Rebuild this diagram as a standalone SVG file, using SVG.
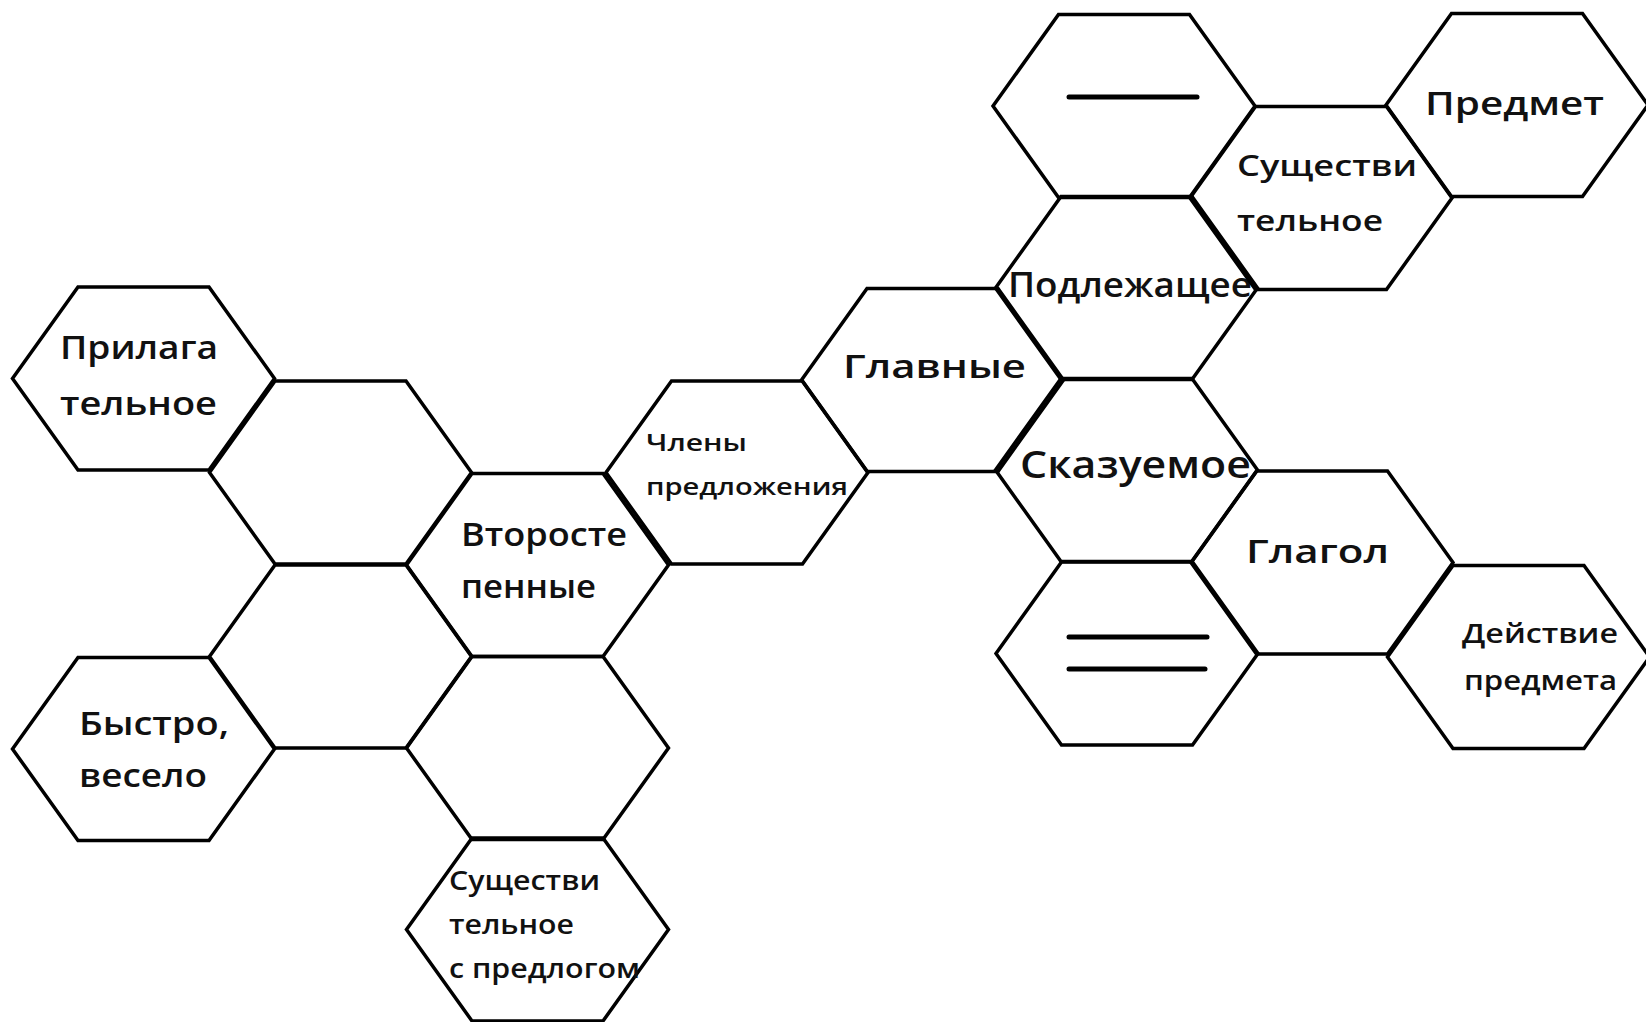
<svg xmlns="http://www.w3.org/2000/svg" xmlns:xlink="http://www.w3.org/1999/xlink" width="1646" height="1022" viewBox="0 0 1646 1022">
<style>
.hex{fill:none;stroke:#000;stroke-width:3.5;stroke-linejoin:miter}
.t{font-family:"Open Sans","DejaVu Sans",sans-serif;font-weight:600;fill:#111}
.dash{stroke:#000;stroke-width:5;stroke-linecap:round}
</style>
<defs>
<polygon id="hex" class="hex" points="-131,0 -65.5,-91.5 65.5,-91.5 131,0 65.5,91.5 -65.5,91.5"/>
</defs>
<rect width="1646" height="1022" fill="#fff"/>
<g id="connectors"></g>
<g id="n1"><use href="#hex" x="143.5" y="378.5"/>
<text class="t" x="60" y="359" font-size="33" textLength="158" lengthAdjust="spacingAndGlyphs">Прилага</text>
<text class="t" x="60" y="415" font-size="33" textLength="157" lengthAdjust="spacingAndGlyphs">тельное</text></g>
<g id="n2"><use href="#hex" x="340.5" y="472.5"/></g>
<g id="n3"><use href="#hex" x="537.5" y="565"/>
<text class="t" x="461" y="546" font-size="33" textLength="166" lengthAdjust="spacingAndGlyphs">Второсте</text>
<text class="t" x="461" y="598" font-size="33" textLength="135" lengthAdjust="spacingAndGlyphs">пенные</text></g>
<g id="n4"><use href="#hex" x="340.5" y="656.5"/></g>
<g id="n5"><use href="#hex" x="143.5" y="749"/>
<text class="t" x="79" y="735" font-size="32" textLength="150" lengthAdjust="spacingAndGlyphs">Быстро,</text>
<text class="t" x="79" y="787" font-size="32" textLength="128" lengthAdjust="spacingAndGlyphs">весело</text></g>
<g id="n6"><use href="#hex" x="537.5" y="748"/></g>
<g id="n7"><use href="#hex" x="537.5" y="929.5"/>
<text class="t" x="449" y="890" font-size="27" textLength="151" lengthAdjust="spacingAndGlyphs">Существи</text>
<text class="t" x="449" y="934" font-size="27" textLength="125" lengthAdjust="spacingAndGlyphs">тельное</text>
<text class="t" x="449" y="978" font-size="27" textLength="191" lengthAdjust="spacingAndGlyphs">с предлогом</text></g>
<g id="n8"><use href="#hex" x="737" y="472.5"/>
<text class="t" x="646" y="451" font-size="24" textLength="101" lengthAdjust="spacingAndGlyphs">Члены</text>
<text class="t" x="646" y="495" font-size="24" textLength="202" lengthAdjust="spacingAndGlyphs">предложения</text></g>
<g id="n9"><use href="#hex" x="932.5" y="380"/>
<text class="t" x="843" y="378" font-size="33" textLength="183" lengthAdjust="spacingAndGlyphs">Главные</text></g>
<g id="n10"><use href="#hex" x="1126.5" y="288"/>
<text class="t" x="1008" y="297" font-size="34" textLength="244" lengthAdjust="spacingAndGlyphs">Подлежащее</text></g>
<g id="n11"><use href="#hex" x="1126.5" y="470"/>
<text class="t" x="1020" y="478" font-size="37" textLength="231" lengthAdjust="spacingAndGlyphs">Сказуемое</text></g>
<g id="n12"><use href="#hex" x="1124" y="106"/>
<line class="dash" x1="1069" y1="97" x2="1197" y2="97"/></g>
<g id="n13"><use href="#hex" x="1321" y="198"/>
<text class="t" x="1237" y="176" font-size="29" textLength="180" lengthAdjust="spacingAndGlyphs">Существи</text>
<text class="t" x="1237" y="231" font-size="29" textLength="146" lengthAdjust="spacingAndGlyphs">тельное</text></g>
<g id="n14"><use href="#hex" x="1517" y="105"/>
<text class="t" x="1425" y="115" font-size="33" textLength="179" lengthAdjust="spacingAndGlyphs">Предмет</text></g>
<g id="n15"><use href="#hex" x="1322" y="562.5"/>
<text class="t" x="1246" y="563" font-size="33" textLength="143" lengthAdjust="spacingAndGlyphs">Глагол</text></g>
<g id="n16"><use href="#hex" x="1127" y="653.5"/>
<line class="dash" x1="1069" y1="637" x2="1207" y2="637"/>
<line class="dash" x1="1069" y1="669" x2="1205" y2="669"/></g>
<g id="n17"><use href="#hex" x="1518.5" y="657"/>
<text class="t" x="1462" y="643" font-size="27" textLength="156" lengthAdjust="spacingAndGlyphs">Действие</text>
<text class="t" x="1464" y="690" font-size="27" textLength="153" lengthAdjust="spacingAndGlyphs">предмета</text></g>
</svg>
